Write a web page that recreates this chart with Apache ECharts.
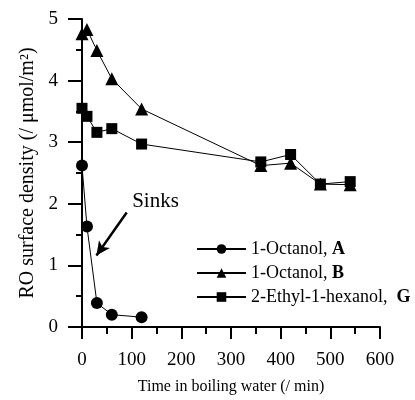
<!DOCTYPE html>
<html>
<head>
<meta charset="utf-8">
<script src="https://cdn.jsdelivr.net/npm/echarts@6/dist/echarts.min.js"></script>
<style>
  html, body { margin: 0; padding: 0; background: #fff; }
  #chart { width: 415px; height: 400px; }
</style>
</head>
<body>
<div id="chart"></div>
<script>
const seriesNames = ['1-Octanol, A', '1-Octanol, B', '2-Ethyl-1-hexanol, G'];
const legendLabels = ['1-Octanol, {b|A}', '1-Octanol, {b|B}', '2-Ethyl-1-hexanol,  {b|G}'];

const timeA = [0, 10, 30, 60, 120];
const densityA = [2.62, 1.63, 0.39, 0.2, 0.16];

const timeB = [0, 10, 30, 60, 120, 360, 420, 480, 540];
const densityB = [4.76, 4.83, 4.49, 4.03, 3.54, 2.62, 2.66, 2.32, 2.31];

const timeG = [0, 10, 30, 60, 120, 360, 420, 480, 540];
const densityG = [3.55, 3.42, 3.16, 3.22, 2.97, 2.68, 2.8, 2.32, 2.36];

const sinksArrow = [[90, 1.86], [29, 1.16]];
const sinksLabel = [148, 2.03];

const font = '"Liberation Serif", "DejaVu Serif", serif';

function pairs(xs, ys) {
    return xs.map((x, i) => [x, ys[i]]);
}

const chart = echarts.init(document.getElementById('chart'), null, { renderer: 'canvas' });

const lineSeries = (name, data, symbol, size) => ({
    name,
    type: 'line',
    data,
    symbol,
    symbolSize: size,
    showSymbol: true,
    color: '#000',
    itemStyle: { color: '#000' },
    lineStyle: { color: '#000', width: 1 },
    animation: false
});

const seriesA = lineSeries(seriesNames[0], pairs(timeA, densityA), 'circle', 12);
seriesA.markLine = {
    silent: true,
    animation: false,
    lineStyle: { color: '#000', width: 2.5, type: 'solid' },
    itemStyle: { color: '#000' },
    label: { show: false },
    data: [[
        { coord: sinksArrow[0], symbol: 'none' },
        { coord: sinksArrow[1], symbol: 'arrow', symbolSize: [10, 14] }
    ]]
};
seriesA.markPoint = {
    silent: true,
    symbol: 'circle',
    symbolSize: 0,
    label: {
        show: true,
        formatter: 'Sinks',
        color: '#000',
        fontFamily: font,
        fontSize: 21
    },
    data: [{ coord: sinksLabel }]
};

chart.setOption({
    backgroundColor: '#fff',
    animation: false,
    textStyle: { fontFamily: font, color: '#000' },
    grid: { left: 82, right: 35, top: 19, bottom: 73, containLabel: false },
    legend: {
        orient: 'vertical',
        left: 196,
        top: 240,
        padding: 0,
        itemWidth: 49,
        itemHeight: 12,
        itemGap: 6,
        data: seriesNames,
        formatter: name => legendLabels[seriesNames.indexOf(name)],
        textStyle: {
            fontFamily: font,
            fontSize: 18,
            color: '#000',
            rich: {
                b: { fontFamily: font, fontSize: 18, fontWeight: 'bold', color: '#000' }
            }
        }
    },
    xAxis: {
        type: 'value',
        min: 0,
        max: 600,
        interval: 100,
        name: 'Time in boiling water (/ min)',
        nameLocation: 'middle',
        nameGap: 52,
        nameTextStyle: { fontFamily: font, fontSize: 16, color: '#000' },
        axisLine: { show: true, onZero: false, lineStyle: { color: '#000', width: 2 } },
        axisTick: { show: true, inside: false, length: 12, lineStyle: { color: '#000', width: 2 } },
        minorTick: { show: true, splitNumber: 2, length: 7, lineStyle: { color: '#000', width: 2 } },
        axisLabel: { fontFamily: font, fontSize: 19, color: '#000', margin: 24 },
        splitLine: { show: false }
    },
    yAxis: {
        type: 'value',
        min: 0,
        max: 5,
        interval: 1,
        name: 'RO surface density (/ \u03bcmol/m\u00b2)',
        nameLocation: 'middle',
        nameGap: 44,
        nameRotate: 90,
        nameTextStyle: { fontFamily: font, fontSize: 20, color: '#000' },
        axisLine: { show: true, onZero: false, lineStyle: { color: '#000', width: 2 } },
        axisTick: { show: true, inside: false, length: 14, lineStyle: { color: '#000', width: 2 } },
        minorTick: { show: true, splitNumber: 2, length: 6, lineStyle: { color: '#000', width: 2 } },
        axisLabel: { fontFamily: font, fontSize: 19, color: '#000', margin: 24 },
        splitLine: { show: false }
    },
    series: [
        seriesA,
        lineSeries(seriesNames[1], pairs(timeB, densityB), 'triangle', 13),
        lineSeries(seriesNames[2], pairs(timeG, densityG), 'rect', 11)
    ]
});
</script>
</body>
</html>
